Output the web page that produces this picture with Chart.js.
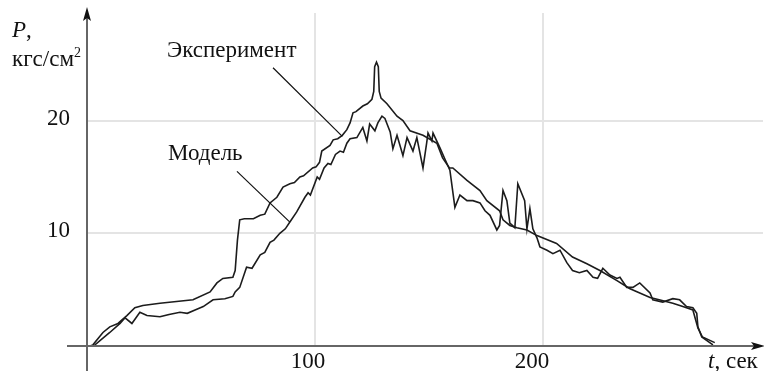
<!DOCTYPE html>
<html>
<head>
<meta charset="utf-8">
<script src="https://cdn.jsdelivr.net/npm/chart.js@4.4.0/dist/chart.umd.min.js"></script>
<style>
  html, body { margin: 0; padding: 0; background: #fff; }
  #wrap { width: 764px; height: 371px; position: relative; }
</style>
</head>
<body>
<div id="wrap"><canvas id="c" width="764" height="371"></canvas></div>
<script>
// ---- data ----
const tExp = [1.3, 2.6, 7, 10, 13.6, 17.5, 21, 24.5, 32, 46.5, 54, 57, 59.6, 64, 65, 66, 67, 69, 73, 76, 78, 80.3, 83.3, 86, 89, 91, 93.4, 95, 99, 100.5, 102, 103, 106.6, 108, 110, 112, 114, 115.4, 116.7, 118, 121, 123, 125, 125.8, 126.2, 127, 127.8, 128.2, 129, 131.6, 136, 138.6, 141.7, 147.4, 153.5, 156, 159, 160.5, 166.7, 172.4, 175.4, 181, 182.5, 185.5, 188.6, 193, 197.4, 206, 213, 219.3, 225, 232.5, 238, 247, 251, 257, 261.4, 265.8, 268, 270, 275.4];
const pExp = [0, 0.1, 1.2, 1.7, 2.0, 2.7, 3.4, 3.6, 3.8, 4.1, 4.8, 5.6, 6.0, 6.1, 6.7, 9.4, 11.2, 11.3, 11.3, 11.6, 11.7, 12.7, 13.2, 14.1, 14.4, 14.5, 15.0, 15.1, 15.8, 15.9, 16.3, 17.3, 17.8, 18.3, 18.4, 18.7, 19.2, 19.8, 20.7, 20.8, 21.3, 21.5, 21.9, 22.6, 24.8, 25.2, 24.8, 22.6, 22.0, 21.5, 20.4, 20.0, 19.1, 18.7, 18.0, 16.7, 15.8, 15.8, 14.7, 13.8, 12.9, 12.0, 11.2, 10.7, 10.5, 10.3, 9.8, 9.1, 7.9, 7.3, 6.7, 5.8, 5.1, 4.3, 4.1, 3.8, 3.5, 3.2, 1.6, 0.8, 0.3];

const tMod = [2.2, 3.5, 10, 14.5, 16.7, 19.7, 23.2, 26.3, 32, 36, 40.8, 44, 47.4, 51, 55.3, 60.5, 64, 65, 67, 70, 72.4, 76, 78, 80.3, 82, 84.6, 87, 89, 92, 95.6, 97, 98, 101, 102, 104, 105.7, 107, 109, 111, 112.5, 114, 115.4, 118.4, 121, 122.8, 124, 126.3, 127.6, 129.4, 130.7, 133, 134.2, 136, 138.6, 140.4, 143, 144.7, 147.4, 149, 149.6, 151.3, 151.8, 154.8, 157, 159.2, 161.4, 163.6, 166.7, 169.3, 172.4, 174.6, 176.8, 179.8, 181, 182.5, 184.2, 185.5, 187.7, 189, 192, 193, 194.3, 195.6, 197.4, 198.7, 201.8, 204.4, 207.5, 210.5, 213, 216, 219.3, 222, 224, 226.3, 229.4, 232.5, 233.8, 236.8, 239.5, 242.5, 247, 248.2, 252.6, 257, 260, 263, 265.8, 267.5, 268, 269.7, 274.6];
const pMod = [0, 0.1, 1.2, 2.0, 2.5, 2.0, 3.0, 2.7, 2.6, 2.8, 3.0, 2.9, 3.2, 3.5, 4.1, 4.2, 4.4, 4.8, 5.2, 7.0, 6.9, 8.1, 8.3, 9.2, 9.4, 10.0, 10.4, 11.0, 11.9, 13.2, 13.6, 13.4, 15.0, 14.8, 15.8, 16.2, 16.1, 17.0, 17.3, 17.2, 18.0, 18.4, 18.5, 19.4, 18.2, 19.7, 19.1, 19.8, 20.4, 20.2, 19.0, 17.5, 18.7, 16.9, 18.5, 17.3, 18.5, 15.8, 18.0, 18.9, 18.2, 18.9, 17.6, 16.6, 15.6, 12.3, 13.4, 12.9, 12.9, 12.7, 12.0, 11.6, 10.3, 10.7, 13.8, 12.9, 10.9, 10.5, 14.4, 12.9, 10.4, 12.2, 10.4, 9.6, 8.8, 8.5, 8.2, 8.5, 7.4, 6.7, 6.5, 6.7, 6.1, 6.0, 6.9, 6.3, 6.0, 6.1, 5.2, 5.2, 5.6, 4.7, 4.1, 3.9, 4.2, 4.1, 3.5, 3.4, 2.9, 1.7, 0.8, 0.1];

const xTicks = [100, 200];
const yTicks = [10, 20];
const xTickLabels = ['100', '200'];
const yTickLabels = ['10', '20'];
const labelExp = 'Эксперимент';
const labelMod = 'Модель';
// leader lines: [fromT, fromP, toT, toP]
const leaderExp = [81.6, 24.7, 112, 18.6];
const leaderMod = [65.8, 15.5, 89, 11.0];

const X_MAX = 297, Y_MAX = 30;
const FONT = '"Liberation Serif", "DejaVu Serif", serif';

function toXY(ts, ps) { return ts.map((t, i) => ({ x: t, y: ps[i] })); }

const overlay = {
  id: 'overlay',
  beforeDatasetsDraw(chart) {
    const { ctx, scales: { x, y } } = chart;
    ctx.save();
    ctx.strokeStyle = '#e4e4e4';
    ctx.lineWidth = 2;
    xTicks.forEach(v => {
      const px = Math.round(x.getPixelForValue(v));
      ctx.beginPath(); ctx.moveTo(px, 13); ctx.lineTo(px, y.getPixelForValue(0)); ctx.stroke();
    });
    yTicks.forEach(v => {
      const py = Math.round(y.getPixelForValue(v));
      ctx.beginPath(); ctx.moveTo(x.getPixelForValue(0), py); ctx.lineTo(763, py); ctx.stroke();
    });
    ctx.restore();
  },
  afterDatasetsDraw(chart) {
    const { ctx, scales: { x, y } } = chart;
    const x0 = x.getPixelForValue(0), y0 = y.getPixelForValue(0);
    ctx.save();
    ctx.strokeStyle = '#666';
    ctx.lineWidth = 2;
    ctx.beginPath(); ctx.moveTo(x0, 371); ctx.lineTo(x0, 12); ctx.stroke();
    ctx.beginPath(); ctx.moveTo(67, y0); ctx.lineTo(758, y0); ctx.stroke();
    ctx.fillStyle = '#111';
    ctx.beginPath(); ctx.moveTo(x0, 7); ctx.lineTo(x0 - 4, 21); ctx.lineTo(x0, 18); ctx.lineTo(x0 + 4, 21); ctx.closePath(); ctx.fill();
    ctx.beginPath(); ctx.moveTo(765, y0); ctx.lineTo(751, y0 - 4); ctx.lineTo(754, y0); ctx.lineTo(751, y0 + 4); ctx.closePath(); ctx.fill();

    ctx.fillStyle = '#111';
    ctx.font = '23px ' + FONT;
    ctx.textBaseline = 'alphabetic';
    ctx.textAlign = 'right';
    yTicks.forEach((v, i) => ctx.fillText(yTickLabels[i], 70, y.getPixelForValue(v) + 4));
    ctx.textAlign = 'center';
    xTicks.forEach((v, i) => ctx.fillText(xTickLabels[i], x.getPixelForValue(v) - 7 - 4 * i, 368));

    ctx.textAlign = 'left';
    ctx.font = 'italic 23px ' + FONT;
    ctx.fillText('P', 12, 37);
    let w = ctx.measureText('P').width;
    ctx.font = '23px ' + FONT;
    ctx.fillText(',', 12 + w, 37);
    ctx.fillText('кгс/см', 12, 66);
    w = ctx.measureText('кгс/см').width;
    ctx.font = '14px ' + FONT;
    ctx.fillText('2', 12 + w, 57);

    ctx.font = 'italic 23px ' + FONT;
    ctx.fillText('t', 708, 368);
    w = ctx.measureText('t').width;
    ctx.font = '23px ' + FONT;
    ctx.fillText(', сек', 708 + w, 368);

    ctx.fillText(labelExp, 167, 57);
    ctx.fillText(labelMod, 168, 160);
    ctx.strokeStyle = '#111';
    ctx.lineWidth = 1.2;
    [leaderExp, leaderMod].forEach(l => {
      ctx.beginPath();
      ctx.moveTo(x.getPixelForValue(l[0]), y.getPixelForValue(l[1]));
      ctx.lineTo(x.getPixelForValue(l[2]), y.getPixelForValue(l[3]));
      ctx.stroke();
    });
    ctx.restore();
  }
};

new Chart(document.getElementById('c'), {
  type: 'line',
  data: {
    datasets: [
      { label: labelExp, data: toXY(tExp, pExp), borderColor: '#1c1c1c', borderWidth: 1.6, pointRadius: 0, tension: 0, fill: false },
      { label: labelMod, data: toXY(tMod, pMod), borderColor: '#1c1c1c', borderWidth: 1.6, pointRadius: 0, tension: 0, fill: false }
    ]
  },
  options: {
    responsive: false,
    animation: false,
    events: [],
    layout: { padding: { left: 87, right: 0, top: 8, bottom: 25 } },
    plugins: { legend: { display: false }, tooltip: { enabled: false } },
    scales: {
      x: { type: 'linear', min: 0, max: X_MAX, display: false },
      y: { type: 'linear', min: 0, max: Y_MAX, display: false }
    }
  },
  plugins: [overlay]
});
</script>
</body>
</html>
